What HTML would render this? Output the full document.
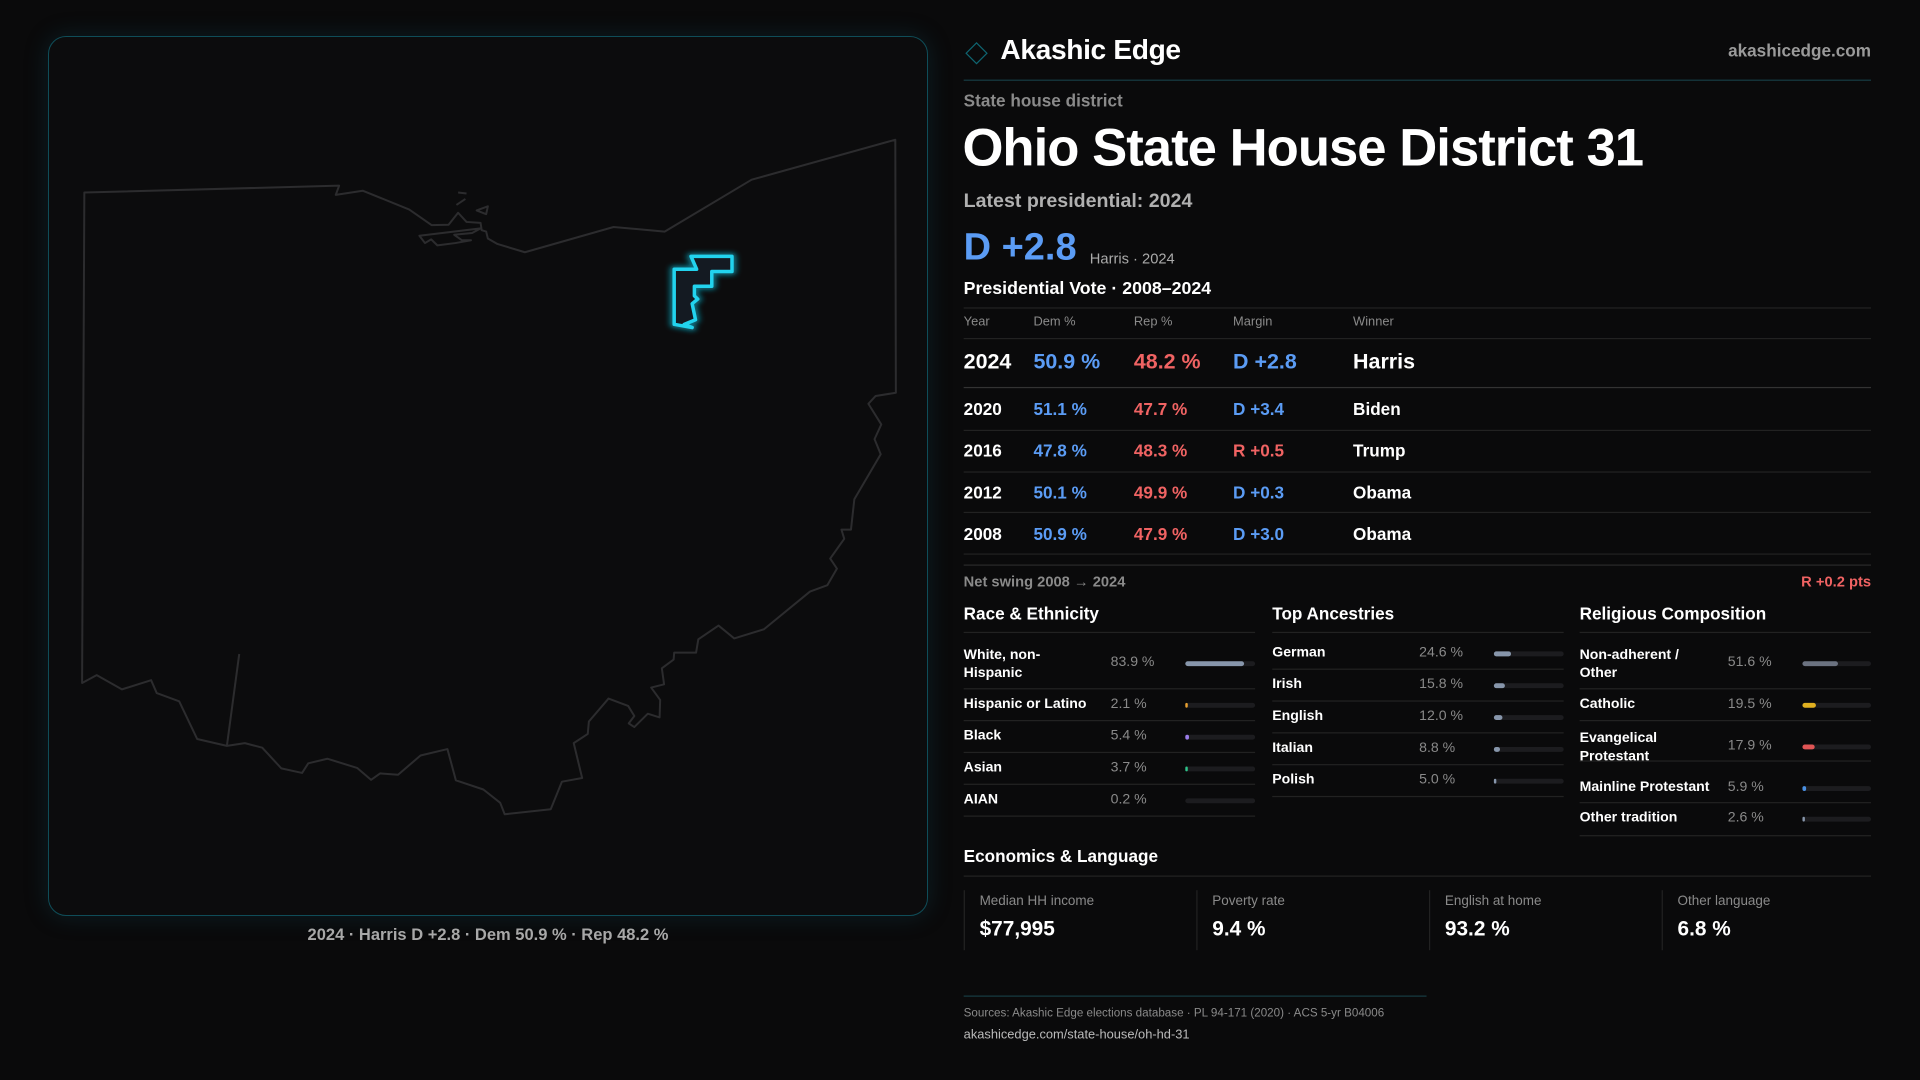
<!DOCTYPE html>
<html><head><meta charset="utf-8"><style>
*{margin:0;padding:0;box-sizing:border-box}
body{width:1920px;height:1080px;background:#0a0a0b;overflow:hidden;position:relative;font-family:"Liberation Sans",sans-serif;color:#fff}
#panel{position:absolute;left:48px;top:36px;width:880px;height:880px;border:1.5px solid #0f4d58;border-radius:18px;background:#0c0c0d;box-shadow:0 0 24px rgba(20,90,110,0.25)}
#map{position:absolute;left:40px;top:120px;width:880px;height:720px}
#cap{position:absolute;left:48px;width:880px;top:926px;text-align:center;font-size:16.5px;font-weight:bold;color:#a8a8a8}
#R{position:absolute;left:0;top:0;width:1568px;height:882px;transform:scale(1.22449);transform-origin:0 0}
.a{position:absolute;white-space:nowrap;line-height:1}
.ln{position:absolute;height:1px;background:#222}
.g{color:#8a8a8a}.b{color:#5b9cf5}.r{color:#f06363}
.bar{position:absolute;height:4px;border-radius:2px;background:#1c1c1f}
.bar i{display:block;height:4px;border-radius:2px}
</style></head><body>
<div id="panel"></div>
<svg id="map" viewBox="0 0 1568 1568" preserveAspectRatio="none">
<g fill="none" stroke="#2c2c2e" stroke-width="2" stroke-linejoin="round" vector-effect="non-scaling-stroke">
<path vector-effect="non-scaling-stroke" d="M79,158 L533,143 L527,163 L575,154 L658,195 L698,229 L728,228 L745,202 L760,222 L785,224 L787,240 L795,243 L798,258 L815,270 L864,288 L1022,233 L1113,243 L1268,130 L1524,43 L1525,594 L1489,601 L1476,618 L1499,663 L1487,695 L1498,728 L1451,826 L1445,892 L1428,892 L1433,912 L1408,955 L1420,977 L1403,1013 L1372,1027 L1290,1109 L1237,1129 L1209,1101 L1173,1131 L1169,1160 L1130,1160 L1129,1175 L1108,1194 L1112,1229 L1089,1236 L1105,1263 L1104,1301 L1083,1293 L1059,1322 L1049,1314 L1059,1298 L1048,1276 L1013,1260 L978,1310 L976,1337 L951,1357 L966,1433 L930,1441 L910,1501 L828,1512 L820,1487 L790,1458 L741,1438 L726,1370 L678,1384 L638,1426 L606,1423 L590,1437 L565,1411 L512,1391 L478,1401 L467,1422 L430,1412 L396,1367 L365,1357 L333,1363 L280,1348 L248,1266 L208,1248 L198,1220 L146,1240 L101,1209 L75,1226 Z"/>
<path vector-effect="non-scaling-stroke" d="M355,1163 L333,1363"/>
<path vector-effect="non-scaling-stroke" d="M676,252 L785,236 L770,246 L738,250 L752,262 L768,262 L740,268 L708,273 L697,260 L686,268 Z"/>
<path vector-effect="non-scaling-stroke" d="M778,197 L798,188 L795,205 Z"/>
<path vector-effect="non-scaling-stroke" d="M742,185 L758,172 M745,158 L760,160"/>
</g>
<defs><filter id="gl" x="-50%" y="-50%" width="200%" height="200%"><feGaussianBlur stdDeviation="5"/></filter></defs>
<path d="M1160,297 L1233,297 L1233,330 L1197,330 L1197,362 L1166,362 L1166,383 L1172,390 L1162,400 L1168,435 L1148,445 L1162,452 L1130,445 L1130,325 L1170,325 Z" fill="#141c24" stroke="#0e6f80" stroke-width="16" stroke-linejoin="round" filter="url(#gl)"/>
<path vector-effect="non-scaling-stroke" d="M1160,297 L1233,297 L1233,330 L1197,330 L1197,362 L1166,362 L1166,383 L1172,390 L1162,400 L1168,435 L1148,445 L1162,452 L1130,445 L1130,325 L1170,325 Z" fill="#141a22" stroke="#22d3ee" stroke-width="3.5" stroke-linejoin="round"/>
</svg>
<div id="cap">2024 · Harris D +2.8 · Dem 50.9 % · Rep 48.2 %</div>

<div id="R">
<div class="a" style="left:791px;top:37px;width:13px;height:13px;border:1.5px solid #0f6470;transform:rotate(45deg)"></div>
<div class="a" style="left:817px;top:29px;font-size:23px;font-weight:bold;letter-spacing:-0.3px">Akashic Edge</div>
<div class="a" style="right:40px;top:34px;font-size:14px;font-weight:bold;color:#9a9a9a">akashicedge.com</div>
<div class="ln" style="left:787px;top:65px;width:741px;background:#173c42"></div>
<div class="a g" style="left:787px;top:75px;font-size:14px;font-weight:bold">State house district</div>
<div class="a" style="left:786px;top:100px;font-size:43px;font-weight:bold;letter-spacing:-0.8px">Ohio State House District 31</div>
<div class="a" style="left:787px;top:157px;font-size:16px;font-weight:bold;color:#b0b0b0">Latest presidential: 2024</div>
<div class="a b" style="left:787px;top:186px;font-size:31px;font-weight:bold">D +2.8</div>
<div class="a" style="left:890px;top:205px;font-size:12px;color:#aaa">Harris · 2024</div>
<div class="a" style="left:787px;top:229px;font-size:14.5px;font-weight:bold">Presidential Vote · 2008–2024</div>
<div class="ln" style="left:787px;top:251px;width:741px"></div>
<div class="a g" style="left:787px;top:258px;font-size:10.5px">Year</div>
<div class="a g" style="left:844px;top:258px;font-size:10.5px">Dem %</div>
<div class="a g" style="left:926px;top:258px;font-size:10.5px">Rep %</div>
<div class="a g" style="left:1007px;top:258px;font-size:10.5px">Margin</div>
<div class="a g" style="left:1105px;top:258px;font-size:10.5px">Winner</div>
<div class="ln" style="left:787px;top:276px;width:741px"></div>
<div class="a" style="left:787px;top:287px;font-size:17.5px;font-weight:bold">2024</div>
<div class="a b" style="left:844px;top:287px;font-size:17.5px;font-weight:bold">50.9 %</div>
<div class="a r" style="left:926px;top:287px;font-size:17.5px;font-weight:bold">48.2 %</div>
<div class="a b" style="left:1007px;top:287px;font-size:17.5px;font-weight:bold">D +2.8</div>
<div class="a" style="left:1105px;top:287px;font-size:17.5px;font-weight:bold">Harris</div>
<div class="ln" style="left:787px;top:316px;width:741px;background:#333"></div>

<div class="a" style="left:787px;top:327px;font-size:14px;font-weight:bold">2020</div><div class="a b" style="left:844px;top:327px;font-size:14px;font-weight:bold">51.1 %</div><div class="a r" style="left:926px;top:327px;font-size:14px;font-weight:bold">47.7 %</div><div class="a b" style="left:1007px;top:327px;font-size:14px;font-weight:bold">D +3.4</div><div class="a" style="left:1105px;top:327px;font-size:14px;font-weight:bold">Biden</div>
<div class="ln" style="left:787px;top:351px;width:741px"></div>
<div class="a" style="left:787px;top:361px;font-size:14px;font-weight:bold">2016</div><div class="a b" style="left:844px;top:361px;font-size:14px;font-weight:bold">47.8 %</div><div class="a r" style="left:926px;top:361px;font-size:14px;font-weight:bold">48.3 %</div><div class="a r" style="left:1007px;top:361px;font-size:14px;font-weight:bold">R +0.5</div><div class="a" style="left:1105px;top:361px;font-size:14px;font-weight:bold">Trump</div>
<div class="ln" style="left:787px;top:385px;width:741px"></div>
<div class="a" style="left:787px;top:395px;font-size:14px;font-weight:bold">2012</div><div class="a b" style="left:844px;top:395px;font-size:14px;font-weight:bold">50.1 %</div><div class="a r" style="left:926px;top:395px;font-size:14px;font-weight:bold">49.9 %</div><div class="a b" style="left:1007px;top:395px;font-size:14px;font-weight:bold">D +0.3</div><div class="a" style="left:1105px;top:395px;font-size:14px;font-weight:bold">Obama</div>
<div class="ln" style="left:787px;top:418px;width:741px"></div>
<div class="a" style="left:787px;top:429px;font-size:14px;font-weight:bold">2008</div><div class="a b" style="left:844px;top:429px;font-size:14px;font-weight:bold">50.9 %</div><div class="a r" style="left:926px;top:429px;font-size:14px;font-weight:bold">47.9 %</div><div class="a b" style="left:1007px;top:429px;font-size:14px;font-weight:bold">D +3.0</div><div class="a" style="left:1105px;top:429px;font-size:14px;font-weight:bold">Obama</div>
<div class="ln" style="left:787px;top:452px;width:741px"></div>
<div class="ln" style="left:787px;top:461px;width:741px;background:#2a2a2a"></div>
<div class="a g" style="left:787px;top:469px;font-size:12px;font-weight:bold">Net swing 2008 → 2024</div>
<div class="a r" style="right:40px;top:469px;font-size:12px;font-weight:bold">R +0.2 pts</div>

<div class="a" style="left:787px;top:494px;font-size:14px;font-weight:bold">Race &amp; Ethnicity</div>
<div class="a" style="left:1039px;top:494px;font-size:14px;font-weight:bold">Top Ancestries</div>
<div class="a" style="left:1290px;top:494px;font-size:14px;font-weight:bold">Religious Composition</div>
<div class="ln" style="left:787px;top:516px;width:238px"></div>
<div class="ln" style="left:1039px;top:516px;width:238px"></div>
<div class="ln" style="left:1290px;top:516px;width:238px"></div>

<div class="a" style="left:787px;top:528px;font-size:11.5px;font-weight:bold;line-height:15px">White, non-<br>Hispanic</div><div class="a g" style="left:907px;top:536px;font-size:11.5px">83.9 %</div><div class="bar" style="left:968px;top:540px;width:57px"><i style="width:48px;background:#8796ab"></i></div>
<div class="ln" style="left:787px;top:562px;width:238px"></div>
<div class="a" style="left:787px;top:570px;font-size:11.5px;font-weight:bold">Hispanic or Latino</div><div class="a g" style="left:907px;top:570px;font-size:11.5px">2.1 %</div><div class="bar" style="left:968px;top:574px;width:57px"><i style="width:1.5px;background:#e8a030"></i></div>
<div class="ln" style="left:787px;top:588px;width:238px"></div>
<div class="a" style="left:787px;top:596px;font-size:11.5px;font-weight:bold">Black</div><div class="a g" style="left:907px;top:596px;font-size:11.5px">5.4 %</div><div class="bar" style="left:968px;top:600px;width:57px"><i style="width:3px;background:#9a7ce8"></i></div>
<div class="ln" style="left:787px;top:614px;width:238px"></div>
<div class="a" style="left:787px;top:622px;font-size:11.5px;font-weight:bold">Asian</div><div class="a g" style="left:907px;top:622px;font-size:11.5px">3.7 %</div><div class="bar" style="left:968px;top:626px;width:57px"><i style="width:2px;background:#2ec48a"></i></div>
<div class="ln" style="left:787px;top:640px;width:238px"></div>
<div class="a" style="left:787px;top:648px;font-size:11.5px;font-weight:bold">AIAN</div><div class="a g" style="left:907px;top:648px;font-size:11.5px">0.2 %</div><div class="bar" style="left:968px;top:652px;width:57px"></div>
<div class="ln" style="left:787px;top:666px;width:238px"></div>

<div class="a" style="left:1039px;top:528px;font-size:11.5px;font-weight:bold">German</div><div class="a g" style="left:1159px;top:528px;font-size:11.5px">24.6 %</div><div class="bar" style="left:1220px;top:532px;width:57px"><i style="width:14px;background:#8796ab"></i></div>
<div class="ln" style="left:1039px;top:546px;width:238px"></div>
<div class="a" style="left:1039px;top:554px;font-size:11.5px;font-weight:bold">Irish</div><div class="a g" style="left:1159px;top:554px;font-size:11.5px">15.8 %</div><div class="bar" style="left:1220px;top:558px;width:57px"><i style="width:9px;background:#8796ab"></i></div>
<div class="ln" style="left:1039px;top:572px;width:238px"></div>
<div class="a" style="left:1039px;top:580px;font-size:11.5px;font-weight:bold">English</div><div class="a g" style="left:1159px;top:580px;font-size:11.5px">12.0 %</div><div class="bar" style="left:1220px;top:584px;width:57px"><i style="width:7px;background:#8796ab"></i></div>
<div class="ln" style="left:1039px;top:598px;width:238px"></div>
<div class="a" style="left:1039px;top:606px;font-size:11.5px;font-weight:bold">Italian</div><div class="a g" style="left:1159px;top:606px;font-size:11.5px">8.8 %</div><div class="bar" style="left:1220px;top:610px;width:57px"><i style="width:5px;background:#8796ab"></i></div>
<div class="ln" style="left:1039px;top:624px;width:238px"></div>
<div class="a" style="left:1039px;top:632px;font-size:11.5px;font-weight:bold">Polish</div><div class="a g" style="left:1159px;top:632px;font-size:11.5px">5.0 %</div><div class="bar" style="left:1220px;top:636px;width:57px"><i style="width:2px;background:#8796ab"></i></div>
<div class="ln" style="left:1039px;top:650px;width:238px"></div>

<div class="a" style="left:1290px;top:528px;font-size:11.5px;font-weight:bold;line-height:15px">Non-adherent /<br>Other</div><div class="a g" style="left:1411px;top:536px;font-size:11.5px">51.6 %</div><div class="bar" style="left:1472px;top:540px;width:56px"><i style="width:29px;background:#6b7280"></i></div>
<div class="ln" style="left:1290px;top:562px;width:238px"></div>
<div class="a" style="left:1290px;top:570px;font-size:11.5px;font-weight:bold">Catholic</div><div class="a g" style="left:1411px;top:570px;font-size:11.5px">19.5 %</div><div class="bar" style="left:1472px;top:574px;width:56px"><i style="width:11px;background:#e0b020"></i></div>
<div class="ln" style="left:1290px;top:588px;width:238px"></div>
<div class="a" style="left:1290px;top:596px;font-size:11.5px;font-weight:bold;line-height:15px">Evangelical<br>Protestant</div><div class="a g" style="left:1411px;top:604px;font-size:11.5px">17.9 %</div><div class="bar" style="left:1472px;top:608px;width:56px"><i style="width:10px;background:#e05555"></i></div>
<div class="ln" style="left:1290px;top:621px;width:238px"></div>
<div class="a" style="left:1290px;top:638px;font-size:11.5px;font-weight:bold">Mainline Protestant</div><div class="a g" style="left:1411px;top:638px;font-size:11.5px">5.9 %</div><div class="bar" style="left:1472px;top:642px;width:56px"><i style="width:3px;background:#4a90e2"></i></div>
<div class="ln" style="left:1290px;top:655px;width:238px"></div>
<div class="a" style="left:1290px;top:663px;font-size:11.5px;font-weight:bold">Other tradition</div><div class="a g" style="left:1411px;top:663px;font-size:11.5px">2.6 %</div><div class="bar" style="left:1472px;top:667px;width:56px"><i style="width:1.5px;background:#8796ab"></i></div>
<div class="ln" style="left:1290px;top:682px;width:238px"></div>

<div class="a" style="left:787px;top:692px;font-size:14px;font-weight:bold">Economics &amp; Language</div>
<div class="ln" style="left:787px;top:715px;width:741px"></div>
<div class="a" style="left:787px;top:727px;width:1px;height:49px;background:#222"></div>
<div class="a" style="left:977px;top:727px;width:1px;height:49px;background:#222"></div>
<div class="a" style="left:1167px;top:727px;width:1px;height:49px;background:#222"></div>
<div class="a" style="left:1357px;top:727px;width:1px;height:49px;background:#222"></div>
<div class="a g" style="left:800px;top:731px;font-size:11px">Median HH income</div><div class="a" style="left:800px;top:750px;font-size:17px;font-weight:bold">$77,995</div>
<div class="a g" style="left:990px;top:731px;font-size:11px">Poverty rate</div><div class="a" style="left:990px;top:750px;font-size:17px;font-weight:bold">9.4 %</div>
<div class="a g" style="left:1180px;top:731px;font-size:11px">English at home</div><div class="a" style="left:1180px;top:750px;font-size:17px;font-weight:bold">93.2 %</div>
<div class="a g" style="left:1370px;top:731px;font-size:11px">Other language</div><div class="a" style="left:1370px;top:750px;font-size:17px;font-weight:bold">6.8 %</div>

<div class="ln" style="left:787px;top:813px;width:378px;background:#173c42"></div>
<div class="a g" style="left:787px;top:823px;font-size:9.5px">Sources: Akashic Edge elections database · PL 94-171 (2020) · ACS 5-yr B04006</div>
<div class="a" style="left:787px;top:840px;font-size:10.5px;color:#bbb">akashicedge.com/state-house/oh-hd-31</div>
</div>
</body></html>
